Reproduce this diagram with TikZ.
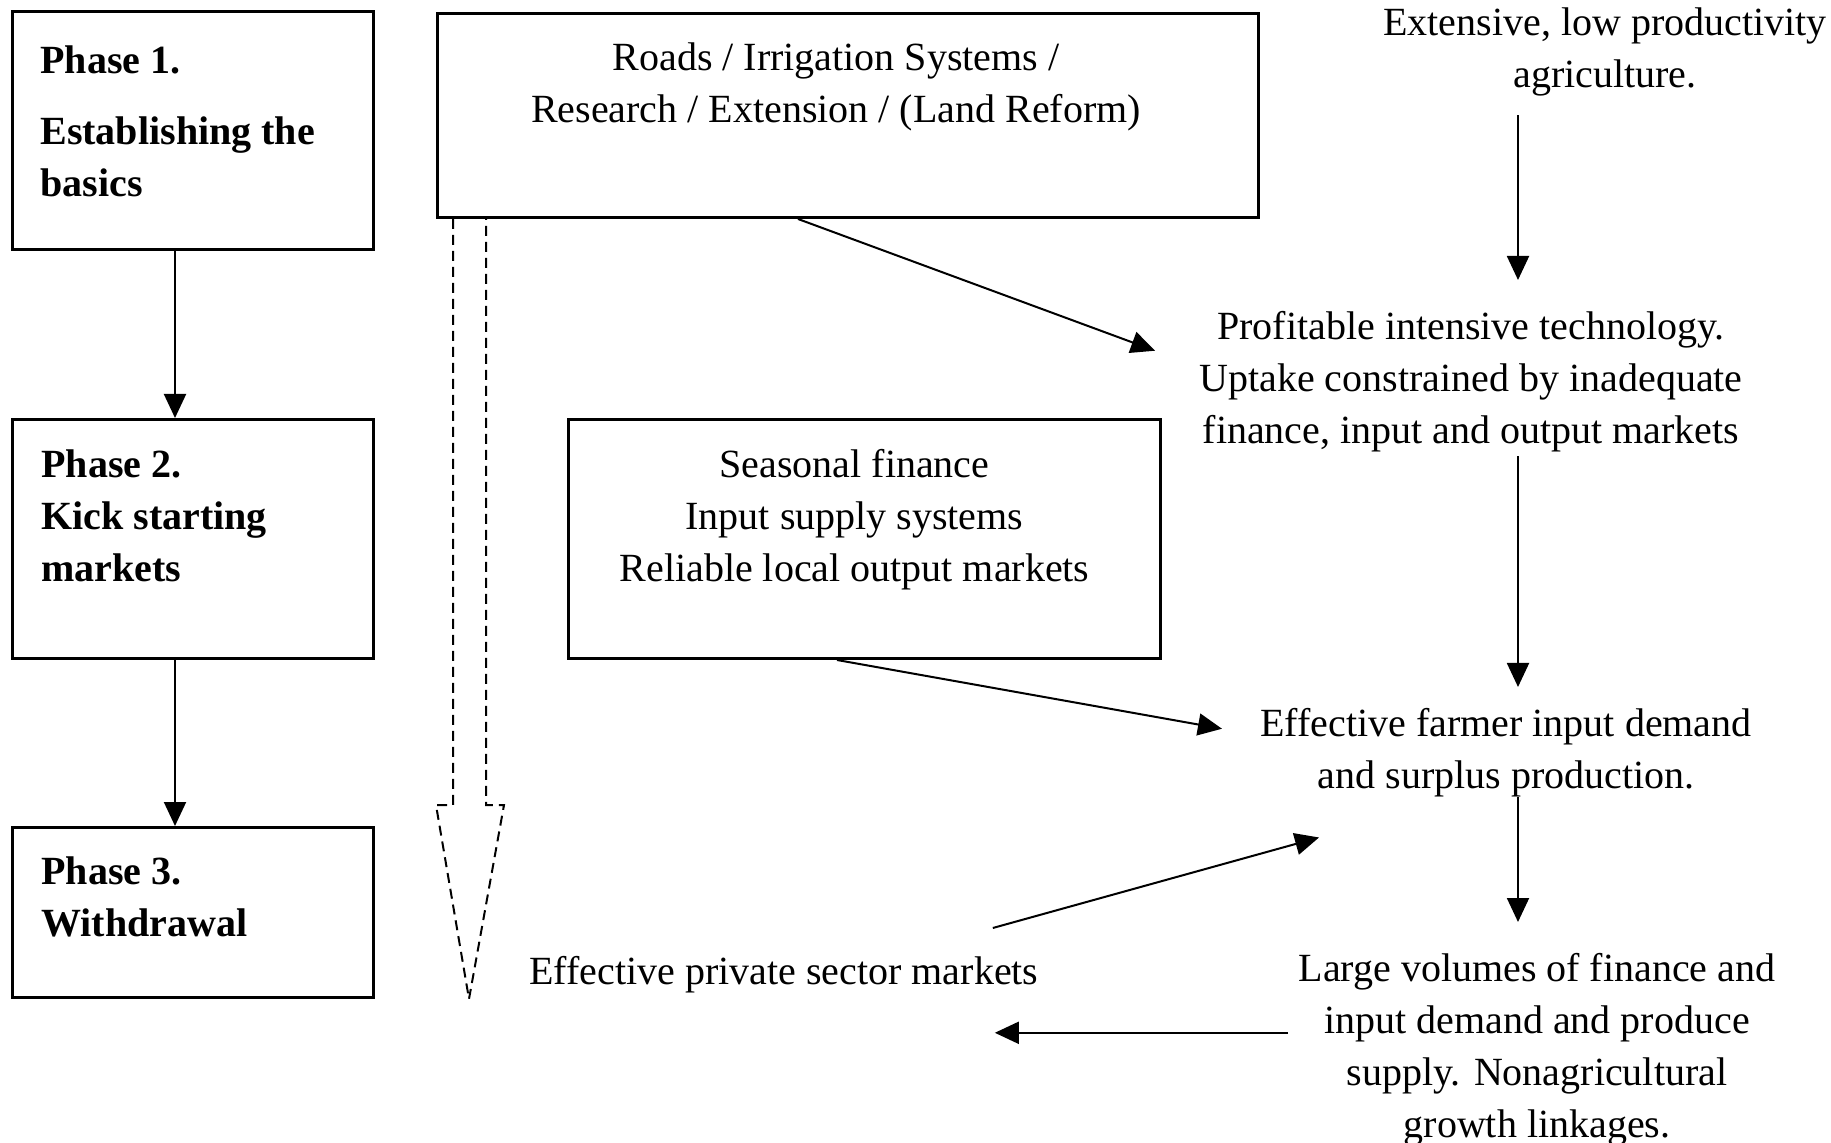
\documentclass[tikz,border=0pt]{standalone}
\usepackage{fontspec}
\setmainfont{Liberation Serif}
\usetikzlibrary{arrows.meta, positioning, calc}
\newlength\px
\setlength\px{0.5pt}
\tikzset{
  boxblock/.style={
    rectangle, draw=black, line width=1.5pt,
    anchor=north west, inner sep=0pt
  },
  phasetext/.style={
    anchor=north west, align=left, inner sep=0pt,
    font=\fontsize{20}{26}\selectfont\bfseries
  },
  plaintext/.style={
    anchor=north, align=center, inner sep=0pt,
    font=\fontsize{20}{26}\selectfont
  },
  flowline/.style={
    draw=black, line width=1pt, -{Triangle[length=12pt, width=11pt]}
  },
  dashedflow/.style={
    draw=black, line width=1pt, dash pattern=on 5pt off 3pt
  }
}
\begin{document}
\begin{tikzpicture}[x=\px, y=-\px]
  \useasboundingbox (0,0) rectangle (1831,1143);

  % Left column: phases
  \node[boxblock, minimum width=361\px, minimum height=238\px] (phase1) at (11,10) {};
  \node[boxblock, minimum width=361\px, minimum height=239\px] (phase2) at (11,418) {};
  \node[boxblock, minimum width=361\px, minimum height=170\px] (phase3) at (11,826) {};
  \node[phasetext] (phase1txt) at ($(phase1.north west)+(29,35)$) {Phase 1.\\[9.5pt]Establishing the\\basics};
  \node[phasetext] (phase2txt) at ($(phase2.north west)+(30,31)$) {Phase 2.\\Kick starting\\markets};
  \node[phasetext] (phase3txt) at ($(phase3.north west)+(30,30)$) {Phase 3.\\Withdrawal};

  % Middle column: interventions
  \node[boxblock, minimum width=821\px, minimum height=204\px] (roads) at (436,12) {};
  \node[plaintext] (roadstxt) at ($(roads.north)+(-12,30)$) {Roads / Irrigation Systems /\\Research / Extension / (Land Reform)};
  \node[boxblock, minimum width=592\px, minimum height=239\px] (seasonal) at (567,418) {};
  \node[plaintext] (seasonaltxt) at ($(seasonal.north)+(-10,31)$) {Seasonal finance\\Input supply systems\\Reliable local output markets};
  \node[plaintext, anchor=north west] (private) at (529,956) {Effective private sector markets};

  % Right column: farm sector stages
  \node[plaintext] (ext) at (1605,7) {Extensive, low productivity\\agriculture.};
  \node[plaintext] (prof) at (1471,311) {Profitable intensive technology.\\Uptake constrained by inadequate\\finance, input and output markets};
  \node[plaintext] (eff) at (1506,708) {Effective farmer input demand\\and surplus production.};
  \node[plaintext] (large) at (1537,953) {Large volumes of finance and\\input demand and produce\\supply. Nonagricultural\\growth linkages.};
  \coordinate (col) at (1518,0);

  % Flows
  \draw[flowline] ($(phase1.south west)+(164,0)$) -- ($(phase2.north west)+(164,0)$);
  \draw[flowline] ($(phase2.south west)+(164,0)$) -- ($(phase3.north west)+(164,0)$);

  \draw[flowline] ($(ext.south -| col)+(0,19)$) -- ($(prof.north -| col)+(0,-31)$);
  \draw[flowline] ($(prof.south -| col)+(0,4)$) -- ($(eff.north -| col)+(0,-21)$);
  \draw[flowline] (eff.south -| col) -- ($(large.north -| col)+(0,-31)$);

  \draw[flowline] ($(roads.south west)+(362,0)$) -- ($(prof.west)+(-44,-31)$);
  \draw[flowline] ($(seasonal.south west)+(270,0)$) -- ($(eff.west)+(-38,-24)$);
  \draw[flowline] ($(private.north east)+(-46,-28)$) -- ($(eff.south)+(-187,40)$);
  \coordinate (lstart) at ($(large.west)+(-10,-17)$);
  \coordinate (lend) at ($(private.east)+(-44,0)$);
  \draw[flowline] (lstart) -- (lend |- lstart);

  % Withdrawal over time (hollow dashed arrow)
  \draw[dashedflow] ($(roads.south west)+(17,0)$) -- ++(0,586) -- ++(-17,0) -- ++(33,194)
    -- ++(35,-194) -- ++(-18,0) -- ($(roads.south west)+(50,0)$);

\end{tikzpicture}
\end{document}
